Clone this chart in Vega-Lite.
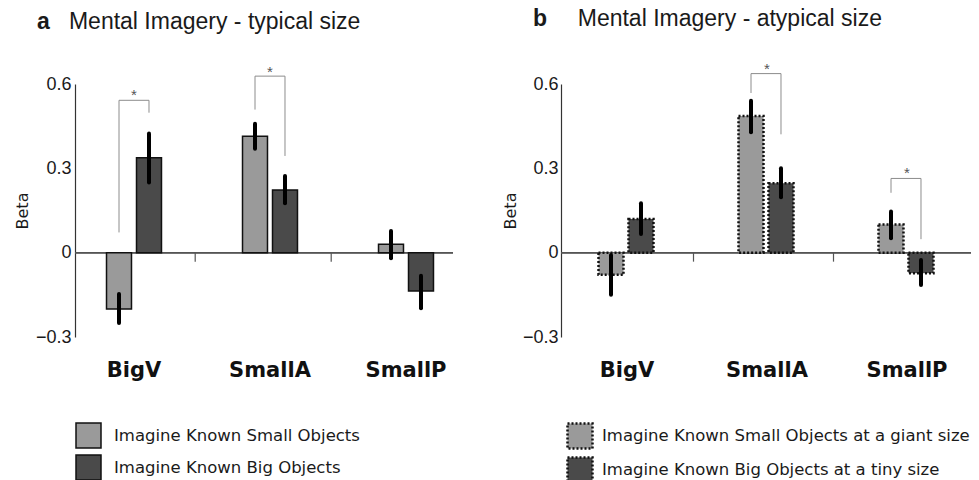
{
  "$schema": "https://vega.github.io/schema/vega-lite/v6.json",
  "padding": {"left": 14, "top": 8, "right": 2, "bottom": 0},
  "background": "white",
  "config": {
    "view": {"stroke": null},
    "font": "Liberation Sans",
    "concat": {"spacing": 19},
    "axis": {"grid": false}
  },
  "resolve": {"scale": {"fill": "independent"}, "legend": {"fill": "independent"}},
  "datasets": {
    "barsA": [
      {"group": "BigV", "cond": "small", "label": "Imagine Known Small Objects", "beta": -0.2, "lo": -0.25, "hi": -0.147},
      {"group": "BigV", "cond": "big", "label": "Imagine Known Big Objects", "beta": 0.338, "lo": 0.25, "hi": 0.424},
      {"group": "SmallA", "cond": "small", "label": "Imagine Known Small Objects", "beta": 0.414, "lo": 0.37, "hi": 0.459},
      {"group": "SmallA", "cond": "big", "label": "Imagine Known Big Objects", "beta": 0.223, "lo": 0.176, "hi": 0.273},
      {"group": "SmallP", "cond": "small", "label": "Imagine Known Small Objects", "beta": 0.03, "lo": -0.02, "hi": 0.077},
      {"group": "SmallP", "cond": "big", "label": "Imagine Known Big Objects", "beta": -0.136, "lo": -0.198, "hi": -0.082}
    ],
    "barsB": [
      {"group": "BigV", "cond": "small", "label": "Imagine Known Small Objects at a giant size", "beta": -0.079, "lo": -0.15, "hi": -0.008},
      {"group": "BigV", "cond": "big", "label": "Imagine Known Big Objects at a tiny size", "beta": 0.12, "lo": 0.066, "hi": 0.176},
      {"group": "SmallA", "cond": "small", "label": "Imagine Known Small Objects at a giant size", "beta": 0.486, "lo": 0.428, "hi": 0.54},
      {"group": "SmallA", "cond": "big", "label": "Imagine Known Big Objects at a tiny size", "beta": 0.247, "lo": 0.197, "hi": 0.3},
      {"group": "SmallP", "cond": "small", "label": "Imagine Known Small Objects at a giant size", "beta": 0.1, "lo": 0.051, "hi": 0.146},
      {"group": "SmallP", "cond": "big", "label": "Imagine Known Big Objects at a tiny size", "beta": -0.073, "lo": -0.115, "hi": -0.026}
    ],
    "bracketsA": [
      {"id": 1, "ord": 1, "group": "BigV", "cond": "small", "y": 0.072},
      {"id": 1, "ord": 2, "group": "BigV", "cond": "small", "y": 0.542},
      {"id": 1, "ord": 3, "group": "BigV", "cond": "big", "y": 0.542},
      {"id": 1, "ord": 4, "group": "BigV", "cond": "big", "y": 0.498},
      {"id": 2, "ord": 1, "group": "SmallA", "cond": "small", "y": 0.509},
      {"id": 2, "ord": 2, "group": "SmallA", "cond": "small", "y": 0.628},
      {"id": 2, "ord": 3, "group": "SmallA", "cond": "big", "y": 0.628},
      {"id": 2, "ord": 4, "group": "SmallA", "cond": "big", "y": 0.344}
    ],
    "bracketsB": [
      {"id": 1, "ord": 1, "group": "SmallA", "cond": "small", "y": 0.568},
      {"id": 1, "ord": 2, "group": "SmallA", "cond": "small", "y": 0.637},
      {"id": 1, "ord": 3, "group": "SmallA", "cond": "big", "y": 0.637},
      {"id": 1, "ord": 4, "group": "SmallA", "cond": "big", "y": 0.421},
      {"id": 2, "ord": 1, "group": "SmallP", "cond": "small", "y": 0.213},
      {"id": 2, "ord": 2, "group": "SmallP", "cond": "small", "y": 0.264},
      {"id": 2, "ord": 3, "group": "SmallP", "cond": "big", "y": 0.264},
      {"id": 2, "ord": 4, "group": "SmallP", "cond": "big", "y": 0.048}
    ],
    "starsA": [
      {"group": "BigV", "y": 0.572},
      {"group": "SmallA", "y": 0.655}
    ],
    "starsB": [
      {"group": "SmallA", "y": 0.664},
      {"group": "SmallP", "y": 0.294}
    ],
    "bounds": [
      {"group": "BigV"},
      {"group": "SmallA"}
    ]
  },
  "hconcat": [
    {
      "width": 378,
      "height": 253,
      "title": {
        "text": "a",
        "subtitle": "\u200b\u00a0\u00a0\u00a0\u00a0\u00a0Mental Imagery - typical size",
        "anchor": "start", "frame": "group", "dx": -38, "offset": 31,
        "font": "Liberation Sans", "fontSize": 23, "fontWeight": "bold", "color": "#1a1a1a",
        "subtitleFont": "Liberation Sans", "subtitleFontSize": 23, "subtitleFontWeight": "normal", "subtitleColor": "#1a1a1a", "subtitlePadding": -23
      },
      "layer": [
        {
          "data": {"name": "barsA"},
          "mark": {"type": "rule", "color": "#555555", "strokeWidth": 1.2},
          "encoding": {"y": {"datum": 0, "type": "quantitative"}}
        },
        {
          "data": {"name": "bounds"},
          "mark": {"type": "rule", "color": "#555555", "strokeWidth": 1.2},
          "encoding": {
            "x": {"field": "group", "type": "nominal", "bandPosition": 1.4, "title": null},
            "y": {"datum": 0, "type": "quantitative"},
            "y2": {"datum": -0.032}
          }
        },
        {
          "data": {"name": "barsA"},
          "mark": {"type": "bar", "stroke": "#111111", "strokeWidth": 1.5},
          "encoding": {
            "x": {
              "field": "group", "type": "nominal", "title": null,
              "scale": {"domain": ["BigV", "SmallA", "SmallP"], "range": [-9, 399], "paddingInner": 0.5, "paddingOuter": 0.25},
              "axis": {"domain": false, "ticks": false, "labelAngle": 0, "labelAlign": "center", "labelBaseline": "top", "labelFont": "DejaVu Sans", "labelFontWeight": "bold", "labelFontSize": 21, "labelPadding": 22, "labelColor": "#111111"}
            },
            "xOffset": {"field": "cond", "type": "nominal", "scale": {"domain": ["small", "big"], "paddingInner": 0.167, "paddingOuter": 0.217}},
            "y": {
              "field": "beta", "type": "quantitative", "title": "Beta",
              "scale": {"domain": [-0.3, 0.6], "nice": false, "zero": false},
              "axis": {
                "values": [-0.3, 0, 0.3, 0.6], "ticks": false, "grid": false,
                "domainColor": "#333333", "domainWidth": 1.2,
                "labelExpr": "datum.value == 0 ? '0' : format(datum.value, '.1f')",
                "labelFont": "Liberation Sans", "labelFontSize": 18, "labelColor": "#1a1a1a", "labelPadding": 4,
                "titleFont": "DejaVu Sans", "titleFontSize": 16, "titleFontWeight": "normal", "titleColor": "#1a1a1a", "titlePadding": 5
              }
            },
            "fill": {
              "field": "label", "type": "nominal",
              "scale": {"domain": ["Imagine Known Small Objects", "Imagine Known Big Objects"], "range": ["#9a9a9a", "#4a4a4a"]},
              "legend": {
                "orient": "none", "legendX": 0, "legendY": 338, "title": null, "padding": 0,
                "symbolType": "square", "symbolSize": 625, "symbolStrokeColor": "#111111", "symbolStrokeWidth": 1.5,
                "labelFont": "DejaVu Sans", "labelFontSize": 16.5, "labelColor": "#1a1a1a", "labelOffset": 12, "rowPadding": 1, "labelLimit": 500
              }
            }
          }
        },
        {
          "data": {"name": "barsA"},
          "mark": {"type": "rule", "color": "#000000", "strokeWidth": 4, "strokeCap": "round"},
          "encoding": {
            "x": {"field": "group", "type": "nominal", "title": null},
            "xOffset": {"field": "cond", "type": "nominal"},
            "y": {"field": "lo", "type": "quantitative", "title": "Beta"},
            "y2": {"field": "hi"}
          }
        },
        {
          "data": {"name": "bracketsA"},
          "mark": {"type": "line", "color": "#8c8c8c", "strokeWidth": 1},
          "encoding": {
            "x": {"field": "group", "type": "nominal", "title": null},
            "xOffset": {"field": "cond", "type": "nominal"},
            "y": {"field": "y", "type": "quantitative", "title": "Beta"},
            "order": {"field": "ord"},
            "detail": {"field": "id"}
          }
        },
        {
          "data": {"name": "starsA"},
          "mark": {"type": "text", "text": "*", "font": "Liberation Sans", "fontSize": 15, "color": "#555555", "baseline": "middle", "dy": 3},
          "encoding": {
            "x": {"field": "group", "type": "nominal", "title": null},
            "y": {"field": "y", "type": "quantitative", "title": "Beta"}
          }
        }
      ]
    },
    {
      "width": 410,
      "height": 253,
      "title": {
        "text": "b",
        "subtitle": "\u200b\u00a0\u00a0\u00a0\u00a0\u00a0\u00a0\u00a0Mental Imagery - atypical size",
        "anchor": "start", "frame": "group", "dx": -28, "offset": 31,
        "font": "Liberation Sans", "fontSize": 23, "fontWeight": "bold", "color": "#1a1a1a",
        "subtitleFont": "Liberation Sans", "subtitleFontSize": 23, "subtitleFontWeight": "normal", "subtitleColor": "#1a1a1a", "subtitlePadding": -23
      },
      "layer": [
        {
          "data": {"name": "barsB"},
          "mark": {"type": "rule", "color": "#555555", "strokeWidth": 1.2},
          "encoding": {"y": {"datum": 0, "type": "quantitative"}}
        },
        {
          "data": {"name": "bounds"},
          "mark": {"type": "rule", "color": "#555555", "strokeWidth": 1.2},
          "encoding": {
            "x": {"field": "group", "type": "nominal", "bandPosition": 1.45, "title": null},
            "y": {"datum": 0, "type": "quantitative"},
            "y2": {"datum": -0.032}
          }
        },
        {
          "data": {"name": "barsB"},
          "mark": {"type": "bar", "stroke": "#111111", "strokeWidth": 2.5, "strokeDash": [2, 2]},
          "encoding": {
            "x": {
              "field": "group", "type": "nominal", "title": null,
              "scale": {"domain": ["BigV", "SmallA", "SmallP"], "range": [-4, 416], "paddingInner": 0.5, "paddingOuter": 0.25},
              "axis": {"domain": false, "ticks": false, "labelAngle": 0, "labelAlign": "center", "labelBaseline": "top", "labelFont": "DejaVu Sans", "labelFontWeight": "bold", "labelFontSize": 21, "labelPadding": 22, "labelColor": "#111111"}
            },
            "xOffset": {"field": "cond", "type": "nominal", "scale": {"domain": ["small", "big"], "paddingInner": 0.133, "paddingOuter": 0.233}},
            "y": {
              "field": "beta", "type": "quantitative", "title": "Beta",
              "scale": {"domain": [-0.3, 0.6], "nice": false, "zero": false},
              "axis": {
                "values": [-0.3, 0, 0.3, 0.6], "ticks": false, "grid": false,
                "domainColor": "#333333", "domainWidth": 1.2,
                "labelExpr": "datum.value == 0 ? '0' : format(datum.value, '.1f')",
                "labelFont": "Liberation Sans", "labelFontSize": 18, "labelColor": "#1a1a1a", "labelPadding": 3,
                "titleFont": "DejaVu Sans", "titleFontSize": 16, "titleFontWeight": "normal", "titleColor": "#1a1a1a", "titlePadding": 4
              }
            },
            "fill": {
              "field": "label", "type": "nominal",
              "scale": {"domain": ["Imagine Known Small Objects at a giant size", "Imagine Known Big Objects at a tiny size"], "range": ["#9a9a9a", "#4a4a4a"]},
              "legend": {
                "orient": "none", "legendX": 5, "legendY": 338, "title": null, "padding": 0,
                "symbolType": "square", "symbolSize": 625, "symbolStrokeColor": "#111111", "symbolStrokeWidth": 2.5, "symbolDash": [2, 2],
                "labelFont": "DejaVu Sans", "labelFontSize": 16.5, "labelColor": "#1a1a1a", "labelOffset": 8, "rowPadding": -2, "labelLimit": 500
              }
            }
          }
        },
        {
          "data": {"name": "barsB"},
          "mark": {"type": "rule", "color": "#000000", "strokeWidth": 4, "strokeCap": "round"},
          "encoding": {
            "x": {"field": "group", "type": "nominal", "title": null},
            "xOffset": {"field": "cond", "type": "nominal"},
            "y": {"field": "lo", "type": "quantitative", "title": "Beta"},
            "y2": {"field": "hi"}
          }
        },
        {
          "data": {"name": "bracketsB"},
          "mark": {"type": "line", "color": "#8c8c8c", "strokeWidth": 1},
          "encoding": {
            "x": {"field": "group", "type": "nominal", "title": null},
            "xOffset": {"field": "cond", "type": "nominal"},
            "y": {"field": "y", "type": "quantitative", "title": "Beta"},
            "order": {"field": "ord"},
            "detail": {"field": "id"}
          }
        },
        {
          "data": {"name": "starsB"},
          "mark": {"type": "text", "text": "*", "font": "Liberation Sans", "fontSize": 15, "color": "#555555", "baseline": "middle", "dy": 3},
          "encoding": {
            "x": {"field": "group", "type": "nominal", "title": null},
            "y": {"field": "y", "type": "quantitative", "title": "Beta"}
          }
        }
      ]
    }
  ]
}
